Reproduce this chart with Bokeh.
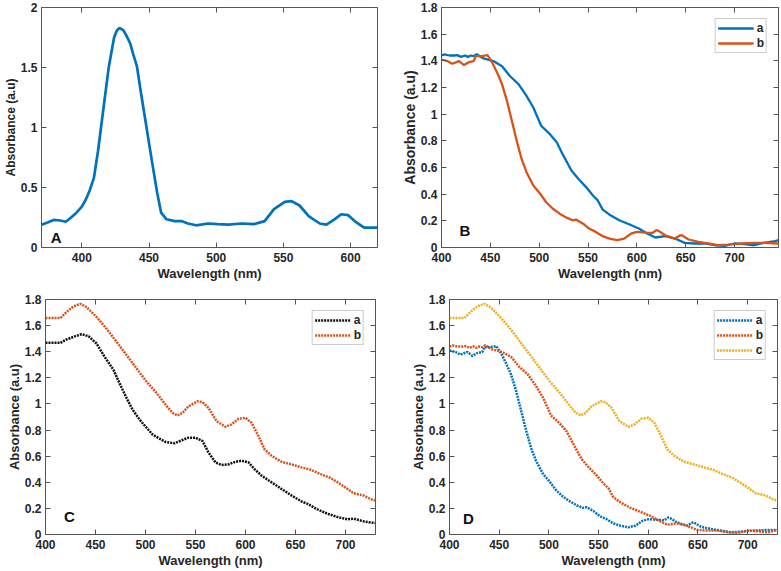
from bokeh.plotting import figure
from bokeh.models import (Range1d, FixedTicker, LinearAxis, Label, Legend,
                          LegendItem, CustomJSTickFormatter)
from bokeh.layouts import row, column
from bokeh.embed import file_html
from bokeh.resources import INLINE

# ---------------- data ----------------
A_wl = [370, 375, 379, 384, 388, 392, 396, 400, 403, 406, 409, 412, 416, 420, 424, 426, 428, 431, 433, 436, 438, 441, 444,
        448, 452, 456, 459, 463, 469, 474, 479, 485, 494, 501, 509, 519, 528, 536, 543, 551, 556, 562, 569,
        577, 582, 588, 593, 598, 603, 610, 620]
A_abs = [0.19, 0.21, 0.23, 0.225, 0.215, 0.25, 0.29, 0.34, 0.40, 0.48, 0.58, 0.80, 1.15, 1.50, 1.75, 1.806, 1.83, 1.81, 1.77, 1.70, 1.62, 1.51, 1.29,
         1.01, 0.73, 0.46, 0.29, 0.235, 0.22, 0.22, 0.20, 0.185, 0.20, 0.195, 0.19, 0.20, 0.195, 0.22, 0.32, 0.38, 0.387, 0.35, 0.26,
         0.20, 0.19, 0.235, 0.277, 0.27, 0.22, 0.166, 0.165]

B_wl_a = [400, 403, 408, 413, 416, 420, 424, 427, 430, 433, 436, 443, 453, 462, 470, 479, 487, 494, 502, 511,
          518, 524, 533, 540, 548, 555, 560, 565, 572, 582, 592, 602, 611, 619, 629, 639, 649, 659, 670, 680,
          690, 700, 710, 720, 730, 740, 745]
B_abs_a = [1.44, 1.448, 1.44, 1.44, 1.443, 1.43, 1.44, 1.43, 1.44, 1.435, 1.45, 1.418, 1.398, 1.36, 1.286, 1.224, 1.137, 1.05, 0.913, 0.85,
           0.789, 0.70, 0.577, 0.515, 0.453, 0.39, 0.353, 0.284, 0.246, 0.204, 0.174, 0.142, 0.104, 0.075, 0.085, 0.067, 0.035, 0.03, 0.03, 0.017,
           0.012, 0.03, 0.025, 0.017, 0.035, 0.045, 0.055]

B_wl_b = [400, 406, 411, 418, 423, 428, 433, 435, 441, 447, 452, 457, 462, 467, 472, 477, 482, 487, 494, 501,
          507, 514, 521, 528, 534, 538, 545, 551, 558, 565, 572, 580, 587, 594, 600, 609, 616, 620, 622, 629,
          639, 644, 646, 653, 663, 673, 683, 693, 707, 720, 730, 745]
B_abs_b = [1.41, 1.398, 1.378, 1.398, 1.368, 1.39, 1.398, 1.435, 1.435, 1.443, 1.386, 1.311, 1.224, 1.10, 0.95, 0.80, 0.664, 0.565, 0.465, 0.403,
           0.341, 0.291, 0.254, 0.224, 0.204, 0.209, 0.179, 0.142, 0.117, 0.085, 0.067, 0.055, 0.067, 0.104, 0.117, 0.112, 0.109, 0.13, 0.125, 0.092,
           0.067, 0.09, 0.092, 0.06, 0.042, 0.03, 0.017, 0.022, 0.03, 0.035, 0.035, 0.03]

C_wl_a = [400, 408, 415, 421, 430, 436, 443, 451, 459, 468, 474, 481, 487, 494, 501, 507, 514, 520, 529, 537,
          543, 550, 557, 563, 570, 576, 583, 590, 596, 603, 609, 616, 626, 636, 646, 656, 662, 672, 682, 692,
          702, 708, 718, 726, 730]
C_abs_a = [1.468, 1.468, 1.468, 1.494, 1.519, 1.534, 1.519, 1.463, 1.362, 1.261, 1.159, 1.046, 0.957, 0.881, 0.818, 0.767, 0.734, 0.709, 0.699, 0.724,
           0.742, 0.742, 0.716, 0.628, 0.552, 0.532, 0.537, 0.557, 0.565, 0.552, 0.501, 0.451, 0.40, 0.349, 0.299, 0.253, 0.235, 0.192, 0.159, 0.134,
           0.116, 0.122, 0.101, 0.091, 0.088]

C_wl_b = [400, 408, 415, 421, 428, 435, 441, 451, 461, 471, 481, 491, 501, 511, 520, 527, 532, 537, 543, 552,
          557, 563, 571, 580, 586, 593, 600, 606, 613, 619, 626, 636, 646, 656, 665, 675, 685, 692, 702, 708,
          718, 726, 730]
C_abs_b = [1.658, 1.658, 1.658, 1.704, 1.747, 1.767, 1.742, 1.666, 1.577, 1.476, 1.375, 1.273, 1.172, 1.084, 0.995, 0.932, 0.911, 0.932, 0.982, 1.02,
           1.013, 0.97, 0.868, 0.825, 0.843, 0.886, 0.894, 0.856, 0.754, 0.653, 0.603, 0.557, 0.537, 0.514, 0.496, 0.463, 0.433, 0.40, 0.349, 0.316,
           0.299, 0.268, 0.26]

A_xticks = [400, 450, 500, 550, 600]
A_yticks = [0, 0.5, 1, 1.5, 2]
B_xticks = [400, 450, 500, 550, 600, 650, 700]
B_yticks = [0, 0.2, 0.4, 0.6, 0.8, 1, 1.2, 1.4, 1.6, 1.8]

# ---------------- style ----------------
FONT = "Liberation Sans"
TXT = "#262626"
FRAME = "#555555"
BLUE, ORANGE, YELLOW, BLACK = "#0072BD", "#D95319", "#EDB120", "#111111"

FMT = "return String(Math.round(tick*1000)/1000);"


def style_axis(ax, size="12px"):
    ax.major_tick_in = 5
    ax.major_tick_out = 0
    ax.minor_tick_line_color = None
    ax.axis_line_color = None
    ax.major_tick_line_color = FRAME
    ax.major_label_text_font = FONT
    ax.major_label_text_font_style = "bold"
    ax.major_label_text_font_size = size
    ax.major_label_text_color = TXT
    ax.axis_label_text_font = FONT
    ax.axis_label_text_font_style = "bold"
    ax.axis_label_text_font_size = "13px"
    ax.axis_label_text_color = TXT


def make_fig(w, h, xr, yr, xt, yt, bl, br, bt, bb, ylab_size="13px"):
    p = figure(width=w, height=h, x_range=Range1d(*xr), y_range=Range1d(*yr),
               output_backend="svg", toolbar_location=None,
               min_border_left=bl, min_border_right=br,
               min_border_top=bt, min_border_bottom=bb)
    p.grid.visible = False
    p.outline_line_color = FRAME
    p.outline_line_width = 1
    p.xaxis.ticker = FixedTicker(ticks=xt)
    p.yaxis.ticker = FixedTicker(ticks=yt)
    p.xaxis.formatter = CustomJSTickFormatter(code=FMT)
    p.yaxis.formatter = CustomJSTickFormatter(code=FMT)
    for ax in p.xaxis + p.yaxis:
        style_axis(ax)
    p.xaxis.axis_label = "Wavelength (nm)"
    p.yaxis.axis_label = "Absorbance (a.u)"
    p.yaxis.axis_label_text_font_size = ylab_size
    p.xaxis.major_label_standoff = 5
    p.xaxis.axis_label_standoff = 1
    p.yaxis.major_label_standoff = 4
    p.yaxis.axis_label_standoff = 0
    # mirrored tick marks (top / right)
    for loc, t in (("above", xt), ("right", yt)):
        ax = LinearAxis(ticker=FixedTicker(ticks=t),
                        formatter=CustomJSTickFormatter(code="return '';"))
        style_axis(ax, size="0px")
        ax.major_label_standoff = 0
        p.add_layout(ax, loc)
    return p


def add_legend(p, items):
    leg = Legend(items=items, location="top_right")
    leg.margin = 11
    leg.padding = 2
    leg.spacing = 1
    leg.border_line_color = "#9a9a9a"
    leg.border_line_width = 1
    leg.label_text_font = FONT
    leg.label_text_font_style = "bold"
    leg.label_text_font_size = "12px"
    leg.label_text_color = TXT
    leg.label_height = 10
    leg.label_width = 7
    leg.glyph_height = 10
    leg.glyph_width = 36
    leg.label_standoff = 3
    p.add_layout(leg)


def add_tag(p, x, y, t):
    p.add_layout(Label(x=x, y=y, text=t, text_font=FONT, text_font_style="bold",
                       text_font_size="15px", text_color="#111111",
                       text_align="center", text_baseline="middle"))


# ---------------- panel A ----------------
pA = make_fig(392, 286, (370, 620), (0, 2), A_xticks, A_yticks, 40, 15, 7, 38, ylab_size="12px")
pA.line(A_wl, A_abs, line_color=BLUE, line_width=2.7)
add_tag(pA, 381, 0.085, "A")

# ---------------- panel B ----------------
pB = make_fig(388, 286, (400, 745), (0, 1.8), B_xticks, B_yticks, 49, 2, 6, 39, ylab_size="14px")
rBa = pB.line(B_wl_a, B_abs_a, line_color=BLUE, line_width=2.3)
rBb = pB.line(B_wl_b, B_abs_b, line_color=ORANGE, line_width=2.3)
add_legend(pB, [LegendItem(label="a", renderers=[rBa]), LegendItem(label="b", renderers=[rBb])])
add_tag(pB, 424, 0.13, "B")

# ---------------- panel C ----------------
pC = make_fig(392, 284, (400, 730), (0, 1.8), B_xticks, B_yticks, 45, 17, 13, 34)
rCa = pC.line(C_wl_a, C_abs_a, line_color=BLACK, line_width=2.5, line_dash="2 1")
rCb = pC.line(C_wl_b, C_abs_b, line_color=ORANGE, line_width=2.5, line_dash="2 1")
add_legend(pC, [LegendItem(label="a", renderers=[rCa]), LegendItem(label="b", renderers=[rCb])])
add_tag(pC, 424, 0.14, "C")

# ---------------- panel D ----------------
pD = make_fig(388, 284, (400, 730), (0, 1.8), B_xticks, B_yticks, 57, 3, 13, 34)
rDa = pD.line(B_wl_b, B_abs_b, line_color=BLUE, line_width=2.5, line_dash="2 1")
rDb = pD.line(B_wl_a, B_abs_a, line_color=ORANGE, line_width=2.5, line_dash="2 1")
rDc = pD.line(C_wl_b, C_abs_b, line_color=YELLOW, line_width=2.5, line_dash="2 1")
add_legend(pD, [LegendItem(label="a", renderers=[rDa]), LegendItem(label="b", renderers=[rDb]),
                LegendItem(label="c", renderers=[rDc])])
add_tag(pD, 419, 0.12, "D")

layout = column(row(pA, pB), row(pC, pD))

open("out.html", "w").write(file_html(layout, INLINE))
